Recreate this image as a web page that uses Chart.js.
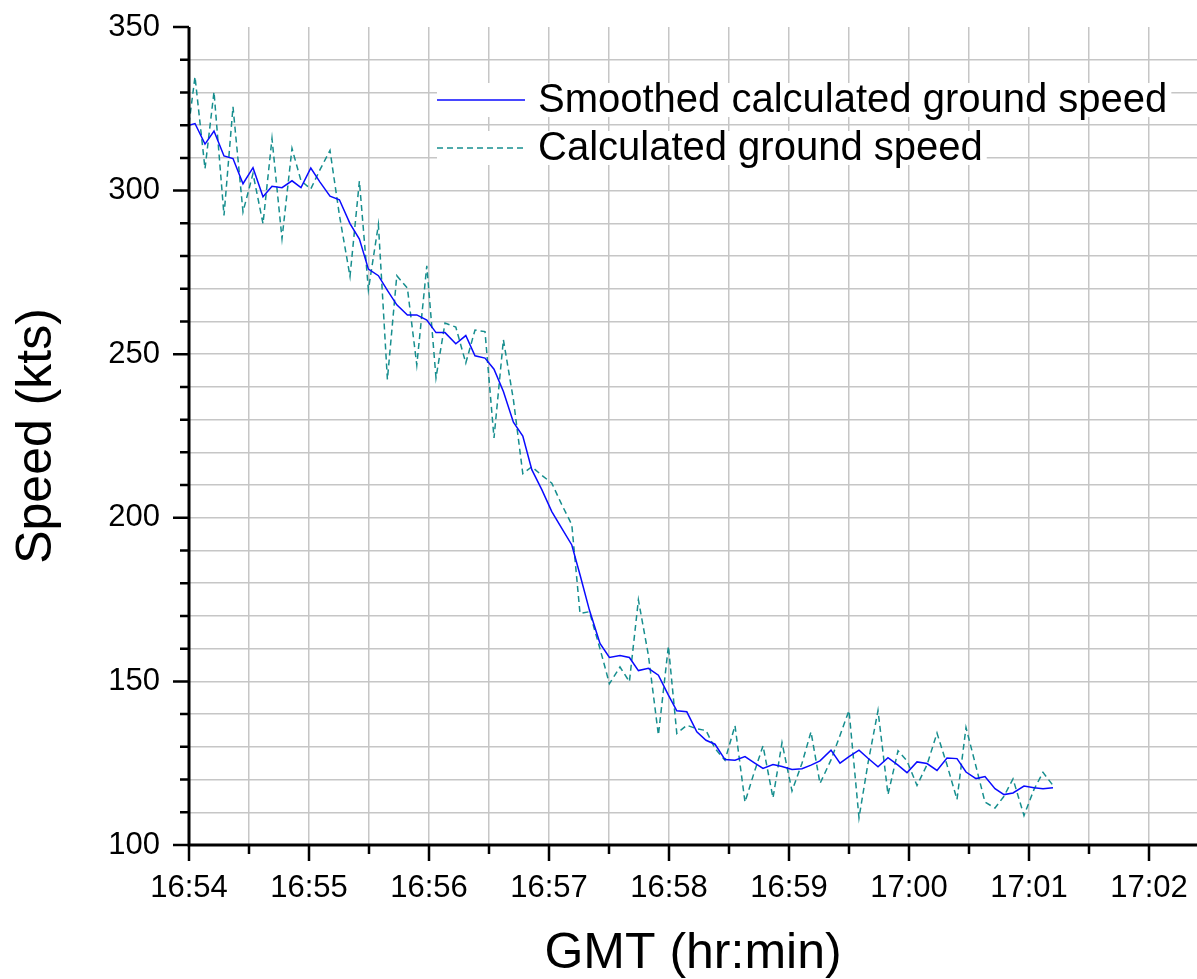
<!DOCTYPE html>
<html>
<head>
<meta charset="utf-8">
<script src="https://cdn.jsdelivr.net/npm/chart.js@4.4.1/dist/chart.umd.min.js"></script>
<style>
html,body{margin:0;padding:0;background:#ffffff;}
#wrap{width:1197px;height:979px;}
canvas{display:block;}
</style>
</head>
<body>
<div id="wrap"><canvas id="c" width="1197" height="979"></canvas></div>
<script>
// ---- data (seconds after 16:54:00) ----
const timeSeconds = [0, 3, 8, 12.5, 17.5, 22, 27, 32, 37, 41.5, 46.5, 51.5, 56, 60.9, 65.5, 70.5, 75.2, 80.5, 85.2, 89.7,
  94.7, 99.2, 103.9, 109.2, 113.9, 118.9, 123.5, 128, 133.4, 138.4, 143, 148, 152.5, 157.2, 162.2, 166.9, 171.4, 176.4,
  181.4, 186.4, 191.4, 195.5, 200.2, 205.5, 210.2, 215.5, 220.2, 224.7, 229.7, 234.7, 239.7, 243.9, 248.9, 253.9, 258.5,
  263, 268, 273, 278, 282.5, 287, 292, 296.5, 301.5, 306.5, 311, 315.5, 321, 325.5, 330, 335, 339.5, 344.5, 349.5, 354.5,
  359, 364, 369, 374, 379, 384, 388.5, 393.5, 398, 403, 407.5, 412, 417.5, 422.5, 427, 432];

const smoothedSpeed = [320.0, 320.5, 314.2, 318.2, 310.6, 309.8, 302.1, 307.0, 298.1, 301.3, 300.9, 303.0, 300.9, 306.9,
  302.6, 298.3, 297.2, 289.9, 285.2, 276.0, 274.0, 269.5, 265.1, 262.0, 262.0, 260.4, 256.6, 256.6, 253.2, 255.7, 249.5,
  248.8, 245.4, 238.6, 229.2, 225.0, 214.7, 208.6, 201.9, 196.8, 191.7, 182.6, 171.8, 161.6, 157.3, 157.9, 157.3, 153.3,
  154.0, 151.9, 145.8, 141.0, 140.7, 134.6, 132.0, 130.8, 126.1, 125.9, 127.0, 125.2, 123.4, 124.6, 124.0, 123.1, 123.3,
  124.4, 125.7, 129.0, 125.0, 127.0, 129.0, 126.5, 123.9, 126.7, 124.4, 122.1, 125.4, 124.9, 122.8, 126.6, 126.4, 122.3,
  120.3, 120.9, 117.2, 115.4, 115.9, 118.0, 117.5, 117.2, 117.5];

const calculatedSpeed = [320.5, 334.8, 306.7, 330.2, 292.4, 325.6, 293.5, 305.2, 289.9, 315.9, 285.3, 312.9, 303.0, 300.5,
  306.4, 312.3, 292.5, 273.8, 302.9, 269.7, 289.6, 242.3, 274.0, 270.2, 246.7, 277.0, 242.8, 259.5, 258.3, 247.3, 257.4,
  256.9, 224.4, 254.4, 236.1, 213.5, 215.6, 213.0, 210.6, 204.0, 197.9, 170.8, 171.3, 160.0, 149.3, 154.4, 149.9, 174.9,
  158.0, 133.6, 160.8, 134.1, 136.6, 135.5, 135.0, 129.5, 125.9, 136.5, 113.1, 122.0, 130.3, 114.4, 131.3, 116.5, 125.0,
  134.6, 118.8, 126.0, 133.5, 141.1, 108.3, 125.0, 141.1, 115.4, 128.8, 125.7, 118.2, 124.5, 134.2, 124.5, 113.9, 135.9,
  124.0, 113.1, 111.3, 114.9, 120.2, 109.0, 117.0, 122.2, 118.2];

const seriesLabels = ['Smoothed calculated ground speed', 'Calculated ground speed'];
const xAxisTitle = 'GMT (hr:min)';
const yAxisTitle = 'Speed (kts)';
const startMinute = 16 * 60 + 54;   // 16:54
const xRangeSeconds = [0, 504];
const yRange = [100, 350];
const xStep = 30, xLabelStep = 60;
const yStep = 10, yLabelStep = 50;

const FONT = "'Liberation Sans', Arial, sans-serif";

function fmtTime(sec) {
  const m = startMinute + Math.round(sec / 60);
  const hh = Math.floor(m / 60) % 24, mm = m % 60;
  return String(hh).padStart(2, '0') + ':' + String(mm).padStart(2, '0');
}

const pair = (ys) => timeSeconds.map((t, i) => ({x: t, y: ys[i]}));

function zeroPad(s) { s.paddingTop = 0; s.paddingBottom = 0; s.paddingLeft = 0; s.paddingRight = 0; }

const axesPlugin = {
  id: 'axesPlugin',
  afterDatasetsDraw(chart) {
    const {ctx, chartArea, scales} = chart;
    const {left, right, top, bottom} = chartArea;
    ctx.save();
    ctx.strokeStyle = '#000';
    ctx.lineCap = 'butt';
    ctx.lineWidth = 3;
    ctx.beginPath();
    ctx.moveTo(left, top);
    ctx.lineTo(left, bottom + 1.5);
    ctx.moveTo(left - 1.5, bottom);
    ctx.lineTo(right, bottom);
    ctx.stroke();
    ctx.lineWidth = 2.5;
    ctx.beginPath();
    scales.y.ticks.forEach(t => {
      const py = scales.y.getPixelForValue(t.value);
      const len = (t.value % yLabelStep === 0) ? 16 : 9;
      ctx.moveTo(left, py);
      ctx.lineTo(left - len, py);
    });
    scales.x.ticks.forEach(t => {
      const px = scales.x.getPixelForValue(t.value);
      const len = (t.value % xLabelStep === 0) ? 16 : 9;
      ctx.moveTo(px, bottom);
      ctx.lineTo(px, bottom + len);
    });
    ctx.stroke();
    ctx.restore();
  }
};

const legendPlugin = {
  id: 'innerLegend',
  afterDraw(chart) {
    const {ctx} = chart;
    const x0 = 437, lineLen = 88, textX = 538, rowY = [100, 148];
    ctx.save();
    ctx.font = '40px ' + FONT;
    ctx.textBaseline = 'middle';
    ctx.textAlign = 'left';
    chart.data.datasets.forEach((ds, i) => {
      const y = rowY[i];
      const w = ctx.measureText(ds.label).width;
      ctx.fillStyle = '#ffffff';
      ctx.fillRect(x0, y - 17, textX - x0 + w + 4, 34);
      ctx.strokeStyle = ds.borderColor;
      ctx.lineWidth = ds.borderWidth;
      ctx.setLineDash(ds.borderDash || []);
      ctx.beginPath();
      ctx.moveTo(x0, y);
      ctx.lineTo(x0 + lineLen, y);
      ctx.stroke();
      ctx.setLineDash([]);
      ctx.fillStyle = '#000';
      ctx.fillText(ds.label, textX, y + 1);
    });
    ctx.restore();
  }
};

new Chart(document.getElementById('c'), {
  type: 'line',
  data: {
    datasets: [
      {
        label: seriesLabels[0],
        data: pair(smoothedSpeed),
        borderColor: '#0a0aff',
        borderWidth: 1.5,
        pointRadius: 0,
        tension: 0,
        fill: false,
        order: 0
      },
      {
        label: seriesLabels[1],
        data: pair(calculatedSpeed),
        borderColor: '#168e8e',
        borderWidth: 1.5,
        borderDash: [6, 4],
        pointRadius: 0,
        tension: 0,
        fill: false,
        order: 1
      }
    ]
  },
  options: {
    responsive: false,
    animation: false,
    devicePixelRatio: 1,
    layout: {padding: {top: 27, right: 0, left: 0, bottom: 0}},
    plugins: {legend: {display: false}, tooltip: {enabled: false}},
    scales: {
      x: {
        type: 'linear',
        min: xRangeSeconds[0],
        max: xRangeSeconds[1],
        border: {display: false},
        grid: {
          drawTicks: false,
          lineWidth: 1.5,
          color: (c) => (c.tick && c.tick.value > xRangeSeconds[0]) ? '#c6c6c6' : 'rgba(0,0,0,0)'
        },
        ticks: {
          stepSize: xStep,
          autoSkip: false,
          includeBounds: false,
          maxRotation: 0,
          padding: 25,
          color: '#000',
          font: {family: FONT, size: 31},
          callback: (v) => (v % xLabelStep === 0) ? fmtTime(v) : ''
        },
        title: {
          display: true,
          text: xAxisTitle,
          color: '#000',
          font: {family: FONT, size: 50, lineHeight: 1},
          padding: {top: 0, bottom: 0}
        },
        afterFit: (s) => { s.height = 134; zeroPad(s); }
      },
      y: {
        type: 'linear',
        min: yRange[0],
        max: yRange[1],
        border: {display: false},
        grid: {
          drawTicks: false,
          lineWidth: 1.5,
          color: (c) => (c.tick && c.tick.value > yRange[0] && c.tick.value < yRange[1]) ? '#c6c6c6' : 'rgba(0,0,0,0)'
        },
        ticks: {
          stepSize: yStep,
          autoSkip: false,
          padding: 29,
          color: '#000',
          font: {family: FONT, size: 31},
          callback: (v) => (v % yLabelStep === 0) ? String(v) : ''
        },
        title: {
          display: true,
          text: yAxisTitle,
          color: '#000',
          font: {family: FONT, size: 50, lineHeight: 1},
          padding: {top: 12, bottom: 0}
        },
        afterFit: (s) => { s.width = 189; zeroPad(s); }
      }
    }
  },
  plugins: [axesPlugin, legendPlugin]
});
</script>
</body>
</html>
